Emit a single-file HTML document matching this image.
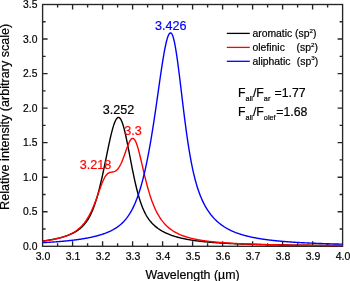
<!DOCTYPE html>
<html><head><meta charset="utf-8"><style>
html,body{margin:0;padding:0;background:#fff;width:350px;height:281px;overflow:hidden}
svg{display:block;will-change:transform}
text{font-family:"Liberation Sans",sans-serif;fill:#000;stroke:#000;stroke-width:0.2}
</style></head><body>
<svg width="350" height="281" viewBox="0 0 350 281">
<g fill="none" stroke="#262626" stroke-width="1.35">
<rect x="42.60" y="4.50" width="300.00" height="241.80"/>
<path d="M57.60 246.30 V243.30 M57.60 4.50 V7.50 M72.60 246.30 V241.30 M72.60 4.50 V9.50 M87.60 246.30 V243.30 M87.60 4.50 V7.50 M102.60 246.30 V241.30 M102.60 4.50 V9.50 M117.60 246.30 V243.30 M117.60 4.50 V7.50 M132.60 246.30 V241.30 M132.60 4.50 V9.50 M147.60 246.30 V243.30 M147.60 4.50 V7.50 M162.60 246.30 V241.30 M162.60 4.50 V9.50 M177.60 246.30 V243.30 M177.60 4.50 V7.50 M192.60 246.30 V241.30 M192.60 4.50 V9.50 M207.60 246.30 V243.30 M207.60 4.50 V7.50 M222.60 246.30 V241.30 M222.60 4.50 V9.50 M237.60 246.30 V243.30 M237.60 4.50 V7.50 M252.60 246.30 V241.30 M252.60 4.50 V9.50 M267.60 246.30 V243.30 M267.60 4.50 V7.50 M282.60 246.30 V241.30 M282.60 4.50 V9.50 M297.60 246.30 V243.30 M297.60 4.50 V7.50 M312.60 246.30 V241.30 M312.60 4.50 V9.50 M327.60 246.30 V243.30 M327.60 4.50 V7.50 M42.60 229.03 H45.60 M342.60 229.03 H339.60 M42.60 211.76 H47.60 M342.60 211.76 H337.60 M42.60 194.49 H45.60 M342.60 194.49 H339.60 M42.60 177.21 H47.60 M342.60 177.21 H337.60 M42.60 159.94 H45.60 M342.60 159.94 H339.60 M42.60 142.67 H47.60 M342.60 142.67 H337.60 M42.60 125.40 H45.60 M342.60 125.40 H339.60 M42.60 108.13 H47.60 M342.60 108.13 H337.60 M42.60 90.86 H45.60 M342.60 90.86 H339.60 M42.60 73.59 H47.60 M342.60 73.59 H337.60 M42.60 56.31 H45.60 M342.60 56.31 H339.60 M42.60 39.04 H47.60 M342.60 39.04 H337.60 M42.60 21.77 H45.60 M342.60 21.77 H339.60"/>
</g>
<g fill="none" stroke-linecap="butt" stroke-linejoin="round">
<path d="M42.60 241.03 L43.20 240.95 L43.80 240.87 L44.40 240.79 L45.00 240.71 L45.60 240.62 L46.20 240.53 L46.80 240.44 L47.40 240.35 L48.00 240.26 L48.60 240.16 L49.20 240.06 L49.80 239.96 L50.40 239.86 L51.00 239.76 L51.60 239.65 L52.20 239.54 L52.80 239.42 L53.40 239.31 L54.00 239.19 L54.60 239.07 L55.20 238.94 L55.80 238.82 L56.40 238.68 L57.00 238.55 L57.60 238.41 L58.20 238.27 L58.80 238.12 L59.40 237.98 L60.00 237.82 L60.60 237.67 L61.20 237.50 L61.80 237.34 L62.40 237.17 L63.00 236.99 L63.60 236.81 L64.20 236.63 L64.80 236.43 L65.40 236.24 L66.00 236.04 L66.60 235.83 L67.20 235.61 L67.80 235.39 L68.40 235.16 L69.00 234.93 L69.60 234.68 L70.20 234.43 L70.80 234.17 L71.40 233.90 L72.00 233.62 L72.60 233.34 L73.20 233.04 L73.80 232.73 L74.40 232.41 L75.00 232.07 L75.60 231.72 L76.20 231.36 L76.80 230.98 L77.40 230.59 L78.00 230.18 L78.60 229.75 L79.20 229.30 L79.80 228.83 L80.40 228.34 L81.00 227.82 L81.60 227.28 L82.20 226.71 L82.80 226.11 L83.40 225.48 L84.00 224.82 L84.60 224.12 L85.20 223.39 L85.80 222.61 L86.40 221.79 L87.00 220.92 L87.60 220.01 L88.20 219.05 L88.80 218.03 L89.40 216.95 L90.00 215.82 L90.60 214.63 L91.20 213.37 L91.80 212.04 L92.40 210.64 L93.00 209.17 L93.60 207.63 L94.20 206.00 L94.80 204.30 L95.40 202.52 L96.00 200.66 L96.60 198.71 L97.20 196.68 L97.80 194.56 L98.40 192.36 L99.00 190.08 L99.60 187.72 L100.20 185.28 L100.80 182.76 L101.40 180.17 L102.00 177.51 L102.60 174.79 L103.20 172.01 L103.80 169.19 L104.40 166.32 L105.00 163.41 L105.60 160.49 L106.20 157.55 L106.80 154.61 L107.40 151.67 L108.00 148.77 L108.60 145.90 L109.20 143.08 L109.80 140.33 L110.40 137.66 L111.00 135.09 L111.60 132.64 L112.20 130.32 L112.80 128.14 L113.40 126.13 L114.00 124.30 L114.60 122.65 L115.20 121.22 L115.80 120.00 L116.40 119.00 L117.00 118.24 L117.60 117.72 L118.20 117.45 L118.80 117.42 L119.40 117.68 L120.00 118.21 L120.60 119.02 L121.20 120.10 L121.80 121.43 L122.40 123.01 L123.00 124.83 L123.60 126.86 L124.20 129.08 L124.80 131.49 L125.40 134.06 L126.00 136.76 L126.60 139.59 L127.20 142.52 L127.80 145.53 L128.40 148.60 L129.00 151.70 L129.60 154.84 L130.20 157.97 L130.80 161.10 L131.40 164.20 L132.00 167.26 L132.60 170.28 L133.20 173.23 L133.80 176.11 L134.40 178.91 L135.00 181.62 L135.60 184.25 L136.20 186.78 L136.80 189.21 L137.40 191.54 L138.00 193.78 L138.60 195.91 L139.20 197.94 L139.80 199.88 L140.40 201.72 L141.00 203.46 L141.60 205.11 L142.20 206.68 L142.80 208.17 L143.40 209.57 L144.00 210.90 L144.60 212.15 L145.20 213.34 L145.80 214.46 L146.40 215.53 L147.00 216.54 L147.60 217.49 L148.20 218.39 L148.80 219.25 L149.40 220.07 L150.00 220.84 L150.60 221.58 L151.20 222.28 L151.80 222.95 L152.40 223.59 L153.00 224.20 L153.60 224.79 L154.20 225.35 L154.80 225.89 L155.40 226.41 L156.00 226.90 L156.60 227.38 L157.20 227.84 L157.80 228.28 L158.40 228.71 L159.00 229.12 L159.60 229.52 L160.20 229.91 L160.80 230.28 L161.40 230.64 L162.00 230.99 L162.60 231.33 L163.20 231.65 L163.80 231.97 L164.40 232.28 L165.00 232.58 L165.60 232.87 L166.20 233.15 L166.80 233.42 L167.40 233.68 L168.00 233.94 L168.60 234.19 L169.20 234.43 L169.80 234.67 L170.40 234.90 L171.00 235.12 L171.60 235.33 L172.20 235.54 L172.80 235.75 L173.40 235.95 L174.00 236.14 L174.60 236.33 L175.20 236.52 L175.80 236.69 L176.40 236.87 L177.00 237.04 L177.60 237.20 L178.20 237.37 L178.80 237.52 L179.40 237.68 L180.00 237.83 L180.60 237.97 L181.20 238.11 L181.80 238.25 L182.40 238.39 L183.00 238.52 L183.60 238.65 L184.20 238.77 L184.80 238.90 L185.40 239.02 L186.00 239.13 L186.60 239.25 L187.20 239.36 L187.80 239.47 L188.40 239.58 L189.00 239.68 L189.60 239.78 L190.20 239.88 L190.80 239.98 L191.40 240.08 L192.00 240.17 L192.60 240.26 L193.20 240.35 L193.80 240.44 L194.40 240.52 L195.00 240.61 L195.60 240.69 L196.20 240.77 L196.80 240.85 L197.40 240.93 L198.00 241.00 L198.60 241.07 L199.20 241.15 L199.80 241.22 L200.40 241.29 L201.00 241.36 L201.60 241.42 L202.20 241.49 L202.80 241.55 L203.40 241.61 L204.00 241.68 L204.60 241.74 L205.20 241.80 L205.80 241.85 L206.40 241.91 L207.00 241.97 L207.60 242.02 L208.20 242.08 L208.80 242.13 L209.40 242.18 L210.00 242.23 L210.60 242.28 L211.20 242.33 L211.80 242.38 L212.40 242.43 L213.00 242.47 L213.60 242.52 L214.20 242.57 L214.80 242.61 L215.40 242.65 L216.00 242.70 L216.60 242.74 L217.20 242.78 L217.80 242.82 L218.40 242.86 L219.00 242.90 L219.60 242.94 L220.20 242.98 L220.80 243.01 L221.40 243.05 L222.00 243.09 L222.60 243.12 L223.20 243.16 L223.80 243.19 L224.40 243.22 L225.00 243.26 L225.60 243.29 L226.20 243.32 L226.80 243.35 L227.40 243.38 L228.00 243.42 L228.60 243.45 L229.20 243.48 L229.80 243.50 L230.40 243.53 L231.00 243.56 L231.60 243.59 L232.20 243.62 L232.80 243.64 L233.40 243.67 L234.00 243.70 L234.60 243.72 L235.20 243.75 L235.80 243.77 L236.40 243.80 L237.00 243.82 L237.60 243.85 L238.20 243.87 L238.80 243.90 L239.40 243.92 L240.00 243.94 L240.60 243.96 L241.20 243.99 L241.80 244.01 L242.40 244.03 L243.00 244.05 L243.60 244.07 L244.20 244.09 L244.80 244.11 L245.40 244.13 L246.00 244.15 L246.60 244.17 L247.20 244.19 L247.80 244.21 L248.40 244.23 L249.00 244.25 L249.60 244.27 L250.20 244.28 L250.80 244.30 L251.40 244.32 L252.00 244.34 L252.60 244.35 L253.20 244.37 L253.80 244.39 L254.40 244.40 L255.00 244.42 L255.60 244.44 L256.20 244.45 L256.80 244.47 L257.40 244.48 L258.00 244.50 L258.60 244.51 L259.20 244.53 L259.80 244.54 L260.40 244.56 L261.00 244.57 L261.60 244.59 L262.20 244.60 L262.80 244.61 L263.40 244.63 L264.00 244.64 L264.60 244.65 L265.20 244.67 L265.80 244.68 L266.40 244.69 L267.00 244.71 L267.60 244.72 L268.20 244.73 L268.80 244.74 L269.40 244.75 L270.00 244.77 L270.60 244.78 L271.20 244.79 L271.80 244.80 L272.40 244.81 L273.00 244.82 L273.60 244.84 L274.20 244.85 L274.80 244.86 L275.40 244.87 L276.00 244.88 L276.60 244.89 L277.20 244.90 L277.80 244.91 L278.40 244.92 L279.00 244.93 L279.60 244.94 L280.20 244.95 L280.80 244.96 L281.40 244.97 L282.00 244.98 L282.60 244.99 L283.20 245.00 L283.80 245.01 L284.40 245.02 L285.00 245.03 L285.60 245.04 L286.20 245.04 L286.80 245.05 L287.40 245.06 L288.00 245.07 L288.60 245.08 L289.20 245.09 L289.80 245.10 L290.40 245.10 L291.00 245.11 L291.60 245.12 L292.20 245.13 L292.80 245.14 L293.40 245.14 L294.00 245.15 L294.60 245.16 L295.20 245.17 L295.80 245.17 L296.40 245.18 L297.00 245.19 L297.60 245.20 L298.20 245.20 L298.80 245.21 L299.40 245.22 L300.00 245.23 L300.60 245.23 L301.20 245.24 L301.80 245.25 L302.40 245.25 L303.00 245.26 L303.60 245.27 L304.20 245.27 L304.80 245.28 L305.40 245.29 L306.00 245.29 L306.60 245.30 L307.20 245.30 L307.80 245.31 L308.40 245.32 L309.00 245.32 L309.60 245.33 L310.20 245.34 L310.80 245.34 L311.40 245.35 L312.00 245.35 L312.60 245.36 L313.20 245.36 L313.80 245.37 L314.40 245.38 L315.00 245.38 L315.60 245.39 L316.20 245.39 L316.80 245.40 L317.40 245.40 L318.00 245.41 L318.60 245.41 L319.20 245.42 L319.80 245.42 L320.40 245.43 L321.00 245.43 L321.60 245.44 L322.20 245.44 L322.80 245.45 L323.40 245.45 L324.00 245.46 L324.60 245.46 L325.20 245.47 L325.80 245.47 L326.40 245.48 L327.00 245.48 L327.60 245.49 L328.20 245.49 L328.80 245.50 L329.40 245.50 L330.00 245.51 L330.60 245.51 L331.20 245.51 L331.80 245.52 L332.40 245.52 L333.00 245.53 L333.60 245.53 L334.20 245.54 L334.80 245.54 L335.40 245.54 L336.00 245.55 L336.60 245.55 L337.20 245.56 L337.80 245.56 L338.40 245.56 L339.00 245.57 L339.60 245.57 L340.20 245.58 L340.80 245.58 L341.40 245.58 L342.00 245.59 L342.60 245.59" stroke="#000" stroke-width="1.4"/>
<path d="M42.60 241.21 L43.20 241.13 L43.80 241.05 L44.40 240.97 L45.00 240.89 L45.60 240.80 L46.20 240.72 L46.80 240.63 L47.40 240.54 L48.00 240.44 L48.60 240.35 L49.20 240.25 L49.80 240.14 L50.40 240.04 L51.00 239.93 L51.60 239.83 L52.20 239.71 L52.80 239.60 L53.40 239.48 L54.00 239.36 L54.60 239.23 L55.20 239.10 L55.80 238.97 L56.40 238.84 L57.00 238.70 L57.60 238.55 L58.20 238.41 L58.80 238.25 L59.40 238.10 L60.00 237.93 L60.60 237.77 L61.20 237.60 L61.80 237.42 L62.40 237.24 L63.00 237.05 L63.60 236.85 L64.20 236.65 L64.80 236.45 L65.40 236.23 L66.00 236.01 L66.60 235.78 L67.20 235.54 L67.80 235.30 L68.40 235.05 L69.00 234.78 L69.60 234.51 L70.20 234.23 L70.80 233.93 L71.40 233.63 L72.00 233.31 L72.60 232.98 L73.20 232.64 L73.80 232.29 L74.40 231.92 L75.00 231.53 L75.60 231.13 L76.20 230.72 L76.80 230.28 L77.40 229.83 L78.00 229.36 L78.60 228.86 L79.20 228.35 L79.80 227.81 L80.40 227.25 L81.00 226.67 L81.60 226.06 L82.20 225.42 L82.80 224.75 L83.40 224.05 L84.00 223.32 L84.60 222.56 L85.20 221.76 L85.80 220.93 L86.40 220.05 L87.00 219.14 L87.60 218.19 L88.20 217.19 L88.80 216.15 L89.40 215.06 L90.00 213.93 L90.60 212.75 L91.20 211.52 L91.80 210.24 L92.40 208.91 L93.00 207.53 L93.60 206.11 L94.20 204.63 L94.80 203.11 L95.40 201.54 L96.00 199.94 L96.60 198.30 L97.20 196.63 L97.80 194.95 L98.40 193.24 L99.00 191.54 L99.60 189.84 L100.20 188.16 L100.80 186.51 L101.40 184.91 L102.00 183.36 L102.60 181.89 L103.20 180.50 L103.80 179.21 L104.40 178.02 L105.00 176.95 L105.60 176.00 L106.20 175.17 L106.80 174.47 L107.40 173.88 L108.00 173.40 L108.60 173.02 L109.20 172.73 L109.80 172.51 L110.40 172.35 L111.00 172.23 L111.60 172.13 L112.20 172.05 L112.80 171.95 L113.40 171.82 L114.00 171.66 L114.60 171.45 L115.20 171.16 L115.80 170.81 L116.40 170.37 L117.00 169.84 L117.60 169.21 L118.20 168.47 L118.80 167.64 L119.40 166.70 L120.00 165.65 L120.60 164.49 L121.20 163.24 L121.80 161.89 L122.40 160.45 L123.00 158.93 L123.60 157.35 L124.20 155.70 L124.80 154.02 L125.40 152.31 L126.00 150.60 L126.60 148.90 L127.20 147.25 L127.80 145.66 L128.40 144.16 L129.00 142.77 L129.60 141.54 L130.20 140.47 L130.80 139.59 L131.40 138.93 L132.00 138.51 L132.60 138.33 L133.20 138.42 L133.80 138.77 L134.40 139.39 L135.00 140.27 L135.60 141.40 L136.20 142.78 L136.80 144.38 L137.40 146.19 L138.00 148.17 L138.60 150.32 L139.20 152.60 L139.80 154.99 L140.40 157.46 L141.00 160.00 L141.60 162.58 L142.20 165.17 L142.80 167.77 L143.40 170.36 L144.00 172.92 L144.60 175.45 L145.20 177.92 L145.80 180.34 L146.40 182.70 L147.00 184.99 L147.60 187.21 L148.20 189.35 L148.80 191.42 L149.40 193.42 L150.00 195.34 L150.60 197.19 L151.20 198.96 L151.80 200.66 L152.40 202.29 L153.00 203.85 L153.60 205.35 L154.20 206.78 L154.80 208.15 L155.40 209.46 L156.00 210.72 L156.60 211.92 L157.20 213.06 L157.80 214.16 L158.40 215.22 L159.00 216.22 L159.60 217.19 L160.20 218.11 L160.80 218.99 L161.40 219.84 L162.00 220.65 L162.60 221.42 L163.20 222.17 L163.80 222.88 L164.40 223.57 L165.00 224.23 L165.60 224.86 L166.20 225.46 L166.80 226.05 L167.40 226.60 L168.00 227.14 L168.60 227.66 L169.20 228.16 L169.80 228.64 L170.40 229.10 L171.00 229.54 L171.60 229.97 L172.20 230.38 L172.80 230.78 L173.40 231.16 L174.00 231.53 L174.60 231.89 L175.20 232.23 L175.80 232.56 L176.40 232.88 L177.00 233.19 L177.60 233.49 L178.20 233.78 L178.80 234.06 L179.40 234.33 L180.00 234.60 L180.60 234.85 L181.20 235.10 L181.80 235.34 L182.40 235.57 L183.00 235.79 L183.60 236.01 L184.20 236.22 L184.80 236.42 L185.40 236.62 L186.00 236.81 L186.60 237.00 L187.20 237.18 L187.80 237.36 L188.40 237.53 L189.00 237.70 L189.60 237.86 L190.20 238.02 L190.80 238.17 L191.40 238.32 L192.00 238.46 L192.60 238.60 L193.20 238.74 L193.80 238.88 L194.40 239.01 L195.00 239.13 L195.60 239.26 L196.20 239.38 L196.80 239.49 L197.40 239.61 L198.00 239.72 L198.60 239.83 L199.20 239.94 L199.80 240.04 L200.40 240.14 L201.00 240.24 L201.60 240.34 L202.20 240.43 L202.80 240.52 L203.40 240.61 L204.00 240.70 L204.60 240.78 L205.20 240.87 L205.80 240.95 L206.40 241.03 L207.00 241.11 L207.60 241.18 L208.20 241.26 L208.80 241.33 L209.40 241.40 L210.00 241.47 L210.60 241.54 L211.20 241.61 L211.80 241.68 L212.40 241.74 L213.00 241.80 L213.60 241.87 L214.20 241.93 L214.80 241.99 L215.40 242.04 L216.00 242.10 L216.60 242.16 L217.20 242.21 L217.80 242.26 L218.40 242.32 L219.00 242.37 L219.60 242.42 L220.20 242.47 L220.80 242.52 L221.40 242.57 L222.00 242.61 L222.60 242.66 L223.20 242.70 L223.80 242.75 L224.40 242.79 L225.00 242.83 L225.60 242.88 L226.20 242.92 L226.80 242.96 L227.40 243.00 L228.00 243.04 L228.60 243.07 L229.20 243.11 L229.80 243.15 L230.40 243.19 L231.00 243.22 L231.60 243.26 L232.20 243.29 L232.80 243.32 L233.40 243.36 L234.00 243.39 L234.60 243.42 L235.20 243.45 L235.80 243.49 L236.40 243.52 L237.00 243.55 L237.60 243.58 L238.20 243.61 L238.80 243.63 L239.40 243.66 L240.00 243.69 L240.60 243.72 L241.20 243.75 L241.80 243.77 L242.40 243.80 L243.00 243.82 L243.60 243.85 L244.20 243.87 L244.80 243.90 L245.40 243.92 L246.00 243.95 L246.60 243.97 L247.20 243.99 L247.80 244.02 L248.40 244.04 L249.00 244.06 L249.60 244.08 L250.20 244.10 L250.80 244.13 L251.40 244.15 L252.00 244.17 L252.60 244.19 L253.20 244.21 L253.80 244.23 L254.40 244.25 L255.00 244.27 L255.60 244.28 L256.20 244.30 L256.80 244.32 L257.40 244.34 L258.00 244.36 L258.60 244.37 L259.20 244.39 L259.80 244.41 L260.40 244.43 L261.00 244.44 L261.60 244.46 L262.20 244.48 L262.80 244.49 L263.40 244.51 L264.00 244.52 L264.60 244.54 L265.20 244.55 L265.80 244.57 L266.40 244.58 L267.00 244.60 L267.60 244.61 L268.20 244.63 L268.80 244.64 L269.40 244.66 L270.00 244.67 L270.60 244.68 L271.20 244.70 L271.80 244.71 L272.40 244.72 L273.00 244.73 L273.60 244.75 L274.20 244.76 L274.80 244.77 L275.40 244.79 L276.00 244.80 L276.60 244.81 L277.20 244.82 L277.80 244.83 L278.40 244.84 L279.00 244.86 L279.60 244.87 L280.20 244.88 L280.80 244.89 L281.40 244.90 L282.00 244.91 L282.60 244.92 L283.20 244.93 L283.80 244.94 L284.40 244.95 L285.00 244.96 L285.60 244.97 L286.20 244.98 L286.80 244.99 L287.40 245.00 L288.00 245.01 L288.60 245.02 L289.20 245.03 L289.80 245.04 L290.40 245.05 L291.00 245.06 L291.60 245.07 L292.20 245.08 L292.80 245.09 L293.40 245.09 L294.00 245.10 L294.60 245.11 L295.20 245.12 L295.80 245.13 L296.40 245.14 L297.00 245.14 L297.60 245.15 L298.20 245.16 L298.80 245.17 L299.40 245.18 L300.00 245.18 L300.60 245.19 L301.20 245.20 L301.80 245.21 L302.40 245.21 L303.00 245.22 L303.60 245.23 L304.20 245.24 L304.80 245.24 L305.40 245.25 L306.00 245.26 L306.60 245.26 L307.20 245.27 L307.80 245.28 L308.40 245.29 L309.00 245.29 L309.60 245.30 L310.20 245.30 L310.80 245.31 L311.40 245.32 L312.00 245.32 L312.60 245.33 L313.20 245.34 L313.80 245.34 L314.40 245.35 L315.00 245.35 L315.60 245.36 L316.20 245.37 L316.80 245.37 L317.40 245.38 L318.00 245.38 L318.60 245.39 L319.20 245.40 L319.80 245.40 L320.40 245.41 L321.00 245.41 L321.60 245.42 L322.20 245.42 L322.80 245.43 L323.40 245.43 L324.00 245.44 L324.60 245.44 L325.20 245.45 L325.80 245.45 L326.40 245.46 L327.00 245.46 L327.60 245.47 L328.20 245.47 L328.80 245.48 L329.40 245.48 L330.00 245.49 L330.60 245.49 L331.20 245.50 L331.80 245.50 L332.40 245.51 L333.00 245.51 L333.60 245.52 L334.20 245.52 L334.80 245.53 L335.40 245.53 L336.00 245.53 L336.60 245.54 L337.20 245.54 L337.80 245.55 L338.40 245.55 L339.00 245.56 L339.60 245.56 L340.20 245.56 L340.80 245.57 L341.40 245.57 L342.00 245.58 L342.60 245.58" stroke="#ff0000" stroke-width="1.4"/>
<path d="M42.60 242.69 L43.20 242.65 L43.80 242.62 L44.40 242.59 L45.00 242.55 L45.60 242.52 L46.20 242.48 L46.80 242.44 L47.40 242.41 L48.00 242.37 L48.60 242.33 L49.20 242.29 L49.80 242.25 L50.40 242.21 L51.00 242.17 L51.60 242.13 L52.20 242.09 L52.80 242.05 L53.40 242.01 L54.00 241.97 L54.60 241.92 L55.20 241.88 L55.80 241.83 L56.40 241.79 L57.00 241.74 L57.60 241.69 L58.20 241.65 L58.80 241.60 L59.40 241.55 L60.00 241.50 L60.60 241.45 L61.20 241.39 L61.80 241.34 L62.40 241.29 L63.00 241.23 L63.60 241.18 L64.20 241.12 L64.80 241.07 L65.40 241.01 L66.00 240.95 L66.60 240.89 L67.20 240.83 L67.80 240.77 L68.40 240.70 L69.00 240.64 L69.60 240.57 L70.20 240.51 L70.80 240.44 L71.40 240.37 L72.00 240.30 L72.60 240.23 L73.20 240.16 L73.80 240.09 L74.40 240.01 L75.00 239.94 L75.60 239.86 L76.20 239.78 L76.80 239.70 L77.40 239.62 L78.00 239.54 L78.60 239.45 L79.20 239.36 L79.80 239.28 L80.40 239.19 L81.00 239.10 L81.60 239.00 L82.20 238.91 L82.80 238.81 L83.40 238.71 L84.00 238.61 L84.60 238.51 L85.20 238.40 L85.80 238.30 L86.40 238.19 L87.00 238.08 L87.60 237.97 L88.20 237.85 L88.80 237.73 L89.40 237.61 L90.00 237.49 L90.60 237.36 L91.20 237.24 L91.80 237.10 L92.40 236.97 L93.00 236.83 L93.60 236.69 L94.20 236.55 L94.80 236.41 L95.40 236.26 L96.00 236.11 L96.60 235.95 L97.20 235.79 L97.80 235.63 L98.40 235.46 L99.00 235.29 L99.60 235.11 L100.20 234.93 L100.80 234.75 L101.40 234.56 L102.00 234.37 L102.60 234.17 L103.20 233.97 L103.80 233.76 L104.40 233.55 L105.00 233.33 L105.60 233.10 L106.20 232.87 L106.80 232.63 L107.40 232.39 L108.00 232.14 L108.60 231.88 L109.20 231.61 L109.80 231.34 L110.40 231.06 L111.00 230.76 L111.60 230.46 L112.20 230.16 L112.80 229.84 L113.40 229.51 L114.00 229.16 L114.60 228.81 L115.20 228.45 L115.80 228.07 L116.40 227.68 L117.00 227.28 L117.60 226.86 L118.20 226.42 L118.80 225.97 L119.40 225.50 L120.00 225.02 L120.60 224.51 L121.20 223.99 L121.80 223.44 L122.40 222.87 L123.00 222.28 L123.60 221.67 L124.20 221.03 L124.80 220.36 L125.40 219.66 L126.00 218.94 L126.60 218.18 L127.20 217.40 L127.80 216.57 L128.40 215.72 L129.00 214.82 L129.60 213.89 L130.20 212.91 L130.80 211.89 L131.40 210.83 L132.00 209.72 L132.60 208.57 L133.20 207.36 L133.80 206.10 L134.40 204.79 L135.00 203.42 L135.60 202.00 L136.20 200.51 L136.80 198.96 L137.40 197.35 L138.00 195.67 L138.60 193.92 L139.20 192.10 L139.80 190.21 L140.40 188.24 L141.00 186.19 L141.60 184.07 L142.20 181.87 L142.80 179.58 L143.40 177.21 L144.00 174.76 L144.60 172.22 L145.20 169.59 L145.80 166.87 L146.40 164.06 L147.00 161.16 L147.60 158.16 L148.20 155.08 L148.80 151.90 L149.40 148.63 L150.00 145.27 L150.60 141.82 L151.20 138.28 L151.80 134.66 L152.40 130.95 L153.00 127.16 L153.60 123.29 L154.20 119.35 L154.80 115.35 L155.40 111.28 L156.00 107.16 L156.60 103.00 L157.20 98.80 L157.80 94.58 L158.40 90.35 L159.00 86.13 L159.60 81.92 L160.20 77.74 L160.80 73.62 L161.40 69.58 L162.00 65.62 L162.60 61.78 L163.20 58.08 L163.80 54.55 L164.40 51.19 L165.00 48.06 L165.60 45.15 L166.20 42.51 L166.80 40.14 L167.40 38.08 L168.00 36.34 L168.60 34.94 L169.20 33.89 L169.80 33.20 L170.40 32.88 L171.00 32.95 L171.60 33.49 L172.20 34.50 L172.80 35.97 L173.40 37.89 L174.00 40.22 L174.60 42.96 L175.20 46.07 L175.80 49.52 L176.40 53.28 L177.00 57.31 L177.60 61.59 L178.20 66.08 L178.80 70.74 L179.40 75.53 L180.00 80.43 L180.60 85.39 L181.20 90.40 L181.80 95.42 L182.40 100.42 L183.00 105.39 L183.60 110.29 L184.20 115.11 L184.80 119.84 L185.40 124.46 L186.00 128.95 L186.60 133.31 L187.20 137.54 L187.80 141.61 L188.40 145.54 L189.00 149.31 L189.60 152.93 L190.20 156.40 L190.80 159.71 L191.40 162.88 L192.00 165.91 L192.60 168.79 L193.20 171.54 L193.80 174.16 L194.40 176.65 L195.00 179.02 L195.60 181.28 L196.20 183.43 L196.80 185.47 L197.40 187.42 L198.00 189.28 L198.60 191.05 L199.20 192.74 L199.80 194.35 L200.40 195.89 L201.00 197.36 L201.60 198.77 L202.20 200.12 L202.80 201.41 L203.40 202.65 L204.00 203.84 L204.60 204.98 L205.20 206.08 L205.80 207.13 L206.40 208.15 L207.00 209.12 L207.60 210.07 L208.20 210.97 L208.80 211.85 L209.40 212.69 L210.00 213.51 L210.60 214.30 L211.20 215.06 L211.80 215.79 L212.40 216.51 L213.00 217.19 L213.60 217.86 L214.20 218.50 L214.80 219.13 L215.40 219.73 L216.00 220.32 L216.60 220.89 L217.20 221.44 L217.80 221.97 L218.40 222.49 L219.00 222.99 L219.60 223.48 L220.20 223.95 L220.80 224.41 L221.40 224.86 L222.00 225.29 L222.60 225.71 L223.20 226.12 L223.80 226.52 L224.40 226.90 L225.00 227.28 L225.60 227.64 L226.20 228.00 L226.80 228.34 L227.40 228.68 L228.00 229.01 L228.60 229.32 L229.20 229.63 L229.80 229.94 L230.40 230.23 L231.00 230.52 L231.60 230.80 L232.20 231.07 L232.80 231.33 L233.40 231.59 L234.00 231.85 L234.60 232.09 L235.20 232.33 L235.80 232.57 L236.40 232.79 L237.00 233.02 L237.60 233.23 L238.20 233.45 L238.80 233.65 L239.40 233.86 L240.00 234.06 L240.60 234.25 L241.20 234.44 L241.80 234.62 L242.40 234.80 L243.00 234.98 L243.60 235.15 L244.20 235.32 L244.80 235.49 L245.40 235.65 L246.00 235.80 L246.60 235.96 L247.20 236.11 L247.80 236.26 L248.40 236.40 L249.00 236.54 L249.60 236.68 L250.20 236.82 L250.80 236.95 L251.40 237.08 L252.00 237.21 L252.60 237.34 L253.20 237.46 L253.80 237.58 L254.40 237.70 L255.00 237.81 L255.60 237.93 L256.20 238.04 L256.80 238.15 L257.40 238.25 L258.00 238.36 L258.60 238.46 L259.20 238.56 L259.80 238.66 L260.40 238.76 L261.00 238.85 L261.60 238.94 L262.20 239.04 L262.80 239.13 L263.40 239.22 L264.00 239.30 L264.60 239.39 L265.20 239.47 L265.80 239.55 L266.40 239.63 L267.00 239.71 L267.60 239.79 L268.20 239.87 L268.80 239.94 L269.40 240.02 L270.00 240.09 L270.60 240.16 L271.20 240.23 L271.80 240.30 L272.40 240.37 L273.00 240.44 L273.60 240.50 L274.20 240.57 L274.80 240.63 L275.40 240.69 L276.00 240.75 L276.60 240.81 L277.20 240.87 L277.80 240.93 L278.40 240.99 L279.00 241.05 L279.60 241.10 L280.20 241.16 L280.80 241.21 L281.40 241.26 L282.00 241.32 L282.60 241.37 L283.20 241.42 L283.80 241.47 L284.40 241.52 L285.00 241.57 L285.60 241.61 L286.20 241.66 L286.80 241.71 L287.40 241.75 L288.00 241.80 L288.60 241.84 L289.20 241.89 L289.80 241.93 L290.40 241.97 L291.00 242.01 L291.60 242.06 L292.20 242.10 L292.80 242.14 L293.40 242.18 L294.00 242.22 L294.60 242.25 L295.20 242.29 L295.80 242.33 L296.40 242.37 L297.00 242.40 L297.60 242.44 L298.20 242.47 L298.80 242.51 L299.40 242.54 L300.00 242.58 L300.60 242.61 L301.20 242.64 L301.80 242.68 L302.40 242.71 L303.00 242.74 L303.60 242.77 L304.20 242.80 L304.80 242.83 L305.40 242.86 L306.00 242.89 L306.60 242.92 L307.20 242.95 L307.80 242.98 L308.40 243.01 L309.00 243.04 L309.60 243.06 L310.20 243.09 L310.80 243.12 L311.40 243.14 L312.00 243.17 L312.60 243.20 L313.20 243.22 L313.80 243.25 L314.40 243.27 L315.00 243.30 L315.60 243.32 L316.20 243.35 L316.80 243.37 L317.40 243.39 L318.00 243.42 L318.60 243.44 L319.20 243.46 L319.80 243.48 L320.40 243.51 L321.00 243.53 L321.60 243.55 L322.20 243.57 L322.80 243.59 L323.40 243.61 L324.00 243.63 L324.60 243.65 L325.20 243.67 L325.80 243.69 L326.40 243.71 L327.00 243.73 L327.60 243.75 L328.20 243.77 L328.80 243.79 L329.40 243.81 L330.00 243.83 L330.60 243.85 L331.20 243.86 L331.80 243.88 L332.40 243.90 L333.00 243.92 L333.60 243.93 L334.20 243.95 L334.80 243.97 L335.40 243.98 L336.00 244.00 L336.60 244.02 L337.20 244.03 L337.80 244.05 L338.40 244.07 L339.00 244.08 L339.60 244.10 L340.20 244.11 L340.80 244.13 L341.40 244.14 L342.00 244.16 L342.60 244.17" stroke="#0000ff" stroke-width="1.4"/>
</g>
<g font-size="10.5"><text x="43.10" y="260.1" text-anchor="middle">3.0</text><text x="73.10" y="260.1" text-anchor="middle">3.1</text><text x="103.10" y="260.1" text-anchor="middle">3.2</text><text x="133.10" y="260.1" text-anchor="middle">3.3</text><text x="163.10" y="260.1" text-anchor="middle">3.4</text><text x="193.10" y="260.1" text-anchor="middle">3.5</text><text x="223.10" y="260.1" text-anchor="middle">3.6</text><text x="253.10" y="260.1" text-anchor="middle">3.7</text><text x="283.10" y="260.1" text-anchor="middle">3.8</text><text x="313.10" y="260.1" text-anchor="middle">3.9</text><text x="343.10" y="260.1" text-anchor="middle">4.0</text></g><g font-size="10.3"><text x="37.4" y="249.90" text-anchor="end">0.0</text><text x="37.4" y="215.36" text-anchor="end">0.5</text><text x="37.4" y="180.81" text-anchor="end">1.0</text><text x="37.4" y="146.27" text-anchor="end">1.5</text><text x="37.4" y="111.73" text-anchor="end">2.0</text><text x="37.4" y="77.19" text-anchor="end">2.5</text><text x="37.4" y="42.64" text-anchor="end">3.0</text><text x="37.4" y="8.10" text-anchor="end">3.5</text></g>
<text font-size="12.4" x="192.6" y="278.9" text-anchor="middle">Wavelength (µm)</text>
<text font-size="12.6" transform="translate(9.2 116.8) rotate(-90)" text-anchor="middle">Relative intensity (arbitrary scale)</text>
<g stroke-width="1.3" fill="none">
<path d="M226.8 33.4 H249.8" stroke="#000"/>
<path d="M226.8 47.4 H249.8" stroke="#ff0000"/>
<path d="M226.8 61.3 H249.8" stroke="#0000ff"/>
</g>
<g font-size="10.4">
<text x="252.4" y="37.4">aromatic</text><text x="295.1" y="37.4">(sp<tspan font-size="6.2" dy="-4.8">2</tspan><tspan dy="4.8">)</tspan></text>
<text x="252.5" y="51.3">olefinic</text><text x="296.5" y="51.3">(sp<tspan font-size="6.2" dy="-4.8">2</tspan><tspan dy="4.8">)</tspan></text>
<text x="252.4" y="65.2">aliphatic</text><text x="296.8" y="65.2">(sp<tspan font-size="6.2" dy="-4.8">3</tspan><tspan dy="4.8">)</tspan></text>
</g>
<g font-size="12.3">
<text x="238.1" y="97.1">F<tspan font-size="7.3" dy="4">all</tspan><tspan dy="-4">/F</tspan><tspan font-size="7.3" dy="4">ar</tspan><tspan dy="-4" dx="0.7"> =1.77</tspan></text>
<text x="238.1" y="116">F<tspan font-size="7.3" dy="4">all</tspan><tspan dy="-4">/F</tspan><tspan font-size="7.3" dy="4">olef</tspan><tspan dy="-4" dx="0.6">=1.68</tspan></text>
</g>
<g font-size="12.6">
<text x="118.6" y="113.8" text-anchor="middle">3.252</text>
<text x="132.9" y="134.5" text-anchor="middle" style="fill:#ff0000;stroke:#ff0000">3.3</text>
<text x="95.5" y="169" text-anchor="middle" style="fill:#ff0000;stroke:#ff0000">3.218</text>
<text x="170.7" y="29.6" text-anchor="middle" style="fill:#0000ff;stroke:#0000ff">3.426</text>
</g>
</svg>
</body></html>
